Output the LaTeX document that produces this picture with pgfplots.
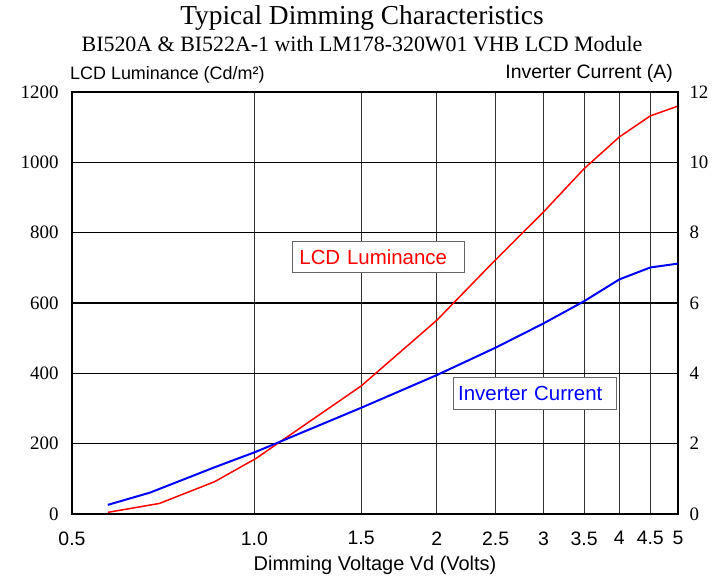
\documentclass[border=0pt]{standalone}
\usepackage{fontspec}
\setmainfont{Liberation Sans}
\newfontfamily\serif{Liberation Serif}
\usepackage{pgfplots}
\pgfplotsset{compat=1.18}
\begin{document}
\begin{tikzpicture}
\begin{axis}[
  name=ax,
  scale only axis, width=606bp, height=422bp,
  xmode=log, xmin=0.5, xmax=5,
  ymin=0, ymax=1200,
  xtick={0.5,1,1.5,2,2.5,3,3.5,4,4.5,5},
  xticklabels={0.5,1.0,1.5,2,2.5,3,3.5,4,4.5,5},
  minor xtick={}, 
  ytick={0,200,400,600,800,1000,1200},
  major tick length=0pt,
  xmajorgrids, ymajorgrids,
  major x grid style={black!80, line width=1.1bp},
  major y grid style={black, line width=1.5bp},
  axis line style={black, line width=1.6bp},
  /pgf/number format/assume math mode=true,
  /pgf/number format/1000 sep={},
  xticklabel style={font=\fontsize{19.5}{19.5}\selectfont, yshift=-14bp},
  yticklabel style={font=\serif\fontsize{19}{19}\selectfont, xshift=-10bp},
  xlabel={Dimming Voltage Vd (Volts)},
  xlabel style={font=\fontsize{20}{20}\selectfont, at={(axis description cs:0.5,0)}, anchor=center, yshift=-51bp},
  clip=false,
]
\addplot[red, line width=1.5bp] coordinates {
  (0.573,4.7) (0.697,30) (0.86,92) (1.006,158) (1.5,364) (2,551) (2.5,723) (3,859) (3.5,982) (4,1072) (4.5,1132) (5,1160)
};
\node[draw=black!60, line width=1bp, fill=white, text=red, font=\fontsize{20.5}{20.5}\selectfont,
  minimum width=172bp, minimum height=31bp, anchor=south west, inner xsep=7bp, align=left, text width=158bp]
  at (axis cs:1.153,685) {LCD Luminance};
\node[draw=black!60, line width=1bp, fill=white, text=blue, font=\fontsize{20.5}{20.5}\selectfont,
  minimum width=163bp, minimum height=32bp, anchor=south west, inner xsep=5bp, align=left, text width=153bp]
  at (axis cs:2.124,296) {Inverter Current};
\end{axis}
\begin{axis}[
  scale only axis, width=606bp, height=422bp,
  xmode=log, xmin=0.5, xmax=5,
  ymin=0, ymax=12,
  axis x line=none,
  axis y line*=right,
  ytick={0,2,4,6,8,10,12},
  major tick length=0pt,
  axis line style={black, line width=1.6bp},
  /pgf/number format/assume math mode=true,
  yticklabel style={font=\serif\fontsize{19}{19}\selectfont, xshift=8bp},
]
\addplot[blue, line width=2bp] coordinates {
  (0.573,0.26) (0.673,0.61) (0.86,1.33) (1.006,1.77) (1.5,3.02) (2,3.95) (2.5,4.73) (3,5.42) (3.5,6.05) (4,6.67) (4.5,7.01) (5,7.12)
};
\end{axis}
\node[anchor=south west, font=\fontsize{18}{18}\selectfont, inner sep=0pt] at ([xshift=-2bp,yshift=9bp]ax.north west) {LCD Luminance (Cd/m²)};
\node[anchor=south east, font=\fontsize{19.5}{19.5}\selectfont, inner sep=0pt] at ([xshift=-5bp,yshift=9bp]ax.north east) {Inverter Current (A)};
\node[font=\serif\fontsize{27.5}{27.5}\selectfont] at ([xshift=290bp,yshift=74bp]ax.north west) {Typical Dimming Characteristics};
\node[font=\serif\fontsize{22}{22}\selectfont] at ([xshift=290bp,yshift=48bp]ax.north west) {BI520A \& BI522A-1 with LM178-320W01 VHB LCD Module};
\pgfresetboundingbox
\path (ax.south west) ++(-72bp,-63bp) rectangle ++(725bp,577bp);
\end{tikzpicture}
\end{document}
